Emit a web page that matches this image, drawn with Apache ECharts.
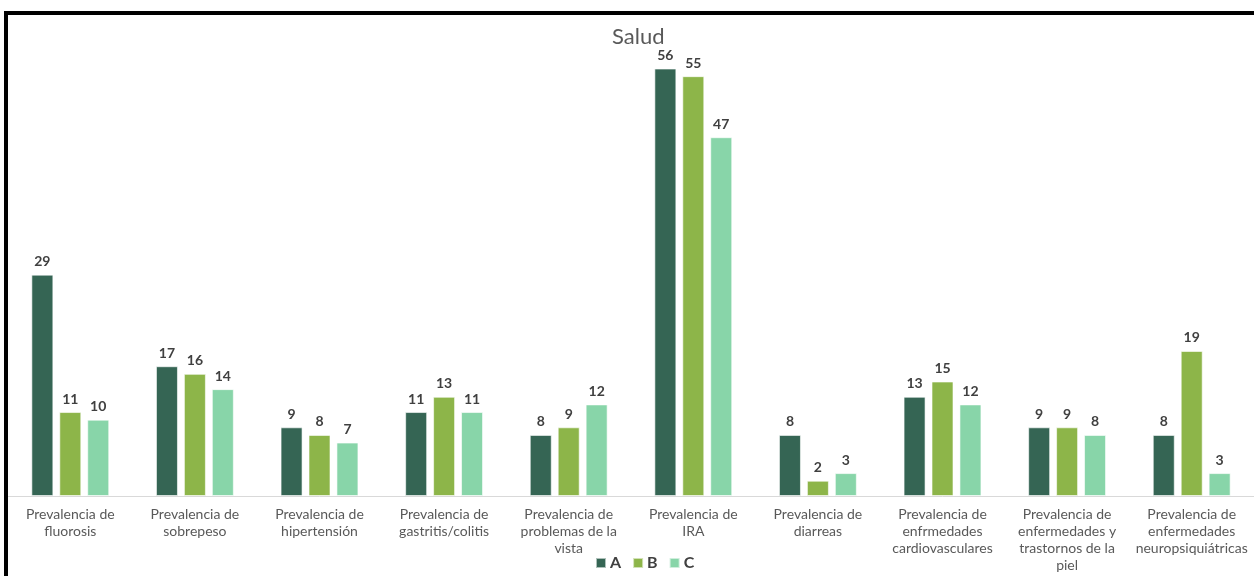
<!DOCTYPE html>
<html>
<head>
<meta charset="utf-8">
<script src="https://cdn.jsdelivr.net/npm/echarts@6/dist/echarts.min.js"></script>
<style>
html,body{margin:0;padding:0;background:#fff;}
#chart{width:1254px;height:576px;}
</style>
</head>
<body>
<div id="chart"></div>
<script>
const categories = [
  "Prevalencia de\nfluorosis",
  "Prevalencia de\nsobrepeso",
  "Prevalencia de\nhipertensión",
  "Prevalencia de\ngastritis/colitis",
  "Prevalencia de\nproblemas de la\nvista",
  "Prevalencia de\nIRA",
  "Prevalencia de\ndiarreas",
  "Prevalencia de\nenfrmedades\ncardiovasculares",
  "Prevalencia de\nenfermedades y\ntrastornos de la\npiel",
  "Prevalencia de\nenfermedades\nneuropsiquiátricas"
];
const seriesNames = ["A", "B", "C"];
const valuesA = [29, 17, 9, 11, 8, 56, 8, 13, 9, 8];
const valuesB = [11, 16, 8, 13, 9, 55, 2, 15, 9, 19];
const valuesC = [10, 14, 7, 11, 12, 47, 3, 12, 8, 3];
const colors = ["#356554", "#8DB549", "#88D5A9"];
const titleText = "Salud";

const FONT = "Lato, 'Open Sans', sans-serif";
const chart = echarts.init(document.getElementById('chart'));
const allValues = [valuesA, valuesB, valuesC];
chart.setOption({
  animation: false,
  backgroundColor: '#fff',
  title: {
    text: titleText, left: 607, top: 21,
    textStyle: { fontFamily: FONT, fontSize: 22, fontWeight: 'normal', color: '#595959' }
  },
  legend: {
    data: seriesNames, left: 590, top: 550,
    itemWidth: 10, itemHeight: 10, itemGap: 11, icon: 'rect',
    textStyle: { fontFamily: FONT, fontSize: 16, fontWeight: 'bold', color: '#404040', padding: [0, 0, 0, -1] }
  },
  grid: { left: 8, right: -2, top: 38, bottom: 80, containLabel: false },
  xAxis: {
    type: 'category', data: categories,
    axisLine: { lineStyle: { color: '#D9D9D9', width: 1 } },
    axisTick: { show: false },
    axisLabel: {
      interval: 0, fontFamily: FONT, fontSize: 14, color: '#595959', lineHeight: 17, margin: 10
    }
  },
  yAxis: {
    type: 'value', min: 0, max: 60, interval: 10, show: false,
    splitLine: { show: false }
  },
  graphic: [{
    type: 'rect', shape: { x: 6, y: 13, width: 1400, height: 700 },
    style: { fill: 'none', stroke: '#000', lineWidth: 4 }, z: 100
  }],
  series: seriesNames.map((n, i) => ({
    name: n, type: 'bar', data: allValues[i],
    barWidth: 22, barGap: '27%', barCategoryGap: '37%',
    itemStyle: { color: colors[i], borderColor: 'rgba(255,255,255,0.6)', borderWidth: 1 },
    label: {
      show: true, position: 'top', distance: 6,
      fontFamily: FONT, fontSize: 14, fontWeight: 'bold', color: '#404040'
    }
  }))
});
</script>
</body>
</html>
